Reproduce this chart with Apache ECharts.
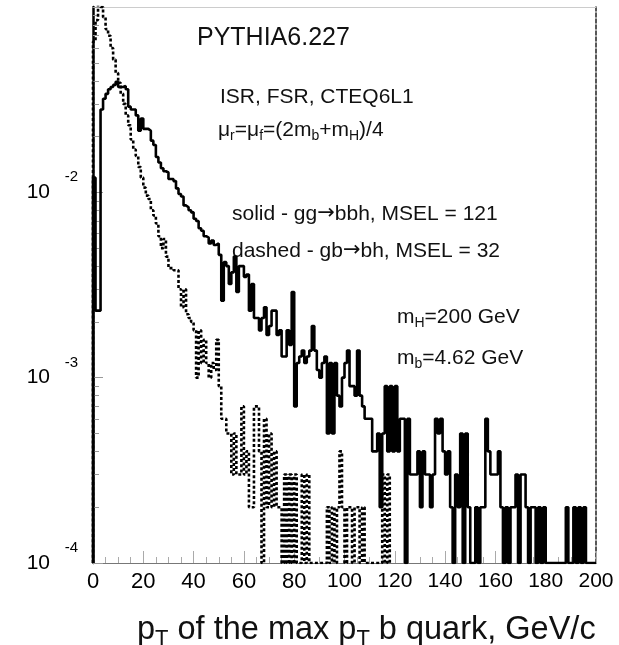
<!DOCTYPE html>
<html>
<head>
<meta charset="utf-8">
<script src="https://cdn.jsdelivr.net/npm/echarts@6/dist/echarts.min.js"></script>
<style>
  html, body { margin: 0; padding: 0; background: #fff; }
  #chart { width: 619px; height: 645px; }
</style>
</head>
<body>
<div id="chart"></div>
<script>
// ---- data: histograms with 1 GeV bins, bin i covers [i, i+1) GeV ----
const binLow = 0;          // first bin low edge (GeV)
const binWidth = 1;        // GeV
// solid - gg -> bbh, MSEL = 121 (200 bins, 0..200 GeV)
const ggBbh = [
  0.012, 0.0023, 0.0023, 0.028, 0.032, 0.034, 0.036, 0.037, 0.038, 0.0395,
  0.037, 0.037, 0.0375, 0.036, 0.029, 0.028, 0.028, 0.026, 0.0215, 0.025,
  0.022, 0.022, 0.0215, 0.019, 0.018, 0.0155, 0.0145, 0.0135, 0.013, 0.0128,
  0.0118, 0.0118, 0.0115, 0.0105, 0.0098, 0.0095, 0.0085, 0.0083, 0.0080, 0.0078,
  0.0072, 0.0070, 0.0064, 0.0062, 0.0058, 0.0057, 0.0053, 0.0055, 0.0052, 0.0053,
  0.0046, 0.0026, 0.0042, 0.0040, 0.0032, 0.0037, 0.0045, 0.0029, 0.0040, 0.0040,
  0.0035, 0.0036, 0.0023, 0.0032, 0.0021, 0.0021, 0.0018, 0.0021, 0.0024, 0.0017,
  0.0019, 0.0023, 0.0023, 0.0017, 0.0018, 0.0013, 0.0013, 0.0018, 0.0015, 0.0029,
  0.0007, 0.0012, 0.0013, 0.0014, 0.0012, 0.0013, 0.0014, 0.0019, 0.0014, 0.0011,
  0.0010, 0.0012, 0.0013, 0.0005, 0.0012, 0.0005, 0.0012, 0.0008, 0.0007, 0.0010,
  0.0012, 0.0014, 0.0009, 0.0009, 0.0008, 0.0014, 0.0008, 0.0007, 0.0006, 0.0006,
  0.0006, 0.0004, 0.0004, 0.0005, 0.0002, 0.0005, 0.0009, 0.0004, 0.0009, 0.0004,
  0.0009, 0.0004, 0.0006, 0.0006, 0.0001, 0.0006, 0.0003, 0.0003, 0.0003, 0.0004,
  0.0002, 0.0004, 0.0003, 0.0003, 0.0002, 0.0003, 0.0006, 0.0005, 0.0006, 0.0004,
  0.0003, 0.0004, 0.0002, 0.0001, 0.0003, 0.0002, 0.0005, 0.0001, 0.0005, 0.0002,
  0.0001, 0.0001, 0.0002, 0.0001, 0.0002, 0.0002, 0.0006, 0.0004, 0.0003, 0.0003,
  0.0003, 0.0004, 0.0002, 0.0001, 0.0002, 0.0001, 0.0002, 0.0002, 0.0003, 0.0001,
  0.0003, 0.0003, 0.0002, 0.0001, 0.0002, 0.0002, 0.0001, 0.0002, 0.0001, 0.0002,
  0.0001, 0.0001, 0.0001, 0.0001, 0.0001, 0.0001, 0.0001, 0.0001, 0.0002, 0.0001,
  0.0001, 0.0002, 0.0001, 0.0002, 0.0001, 0.0002, 0.0001, 0.0001, 0.0001, 0.0001
];
// dashed - gb -> bh, MSEL = 32 (bins 0..117 GeV; empty above)
const gbBh = [
  0.065, 0.085, 0.12, 0.1, 0.088, 0.076, 0.07, 0.06, 0.052, 0.044,
  0.039, 0.034, 0.030, 0.026, 0.023, 0.0193, 0.017, 0.0157, 0.0137, 0.012,
  0.0106, 0.0096, 0.0092, 0.0080, 0.0075, 0.0068, 0.0058, 0.0050, 0.0056, 0.0045,
  0.0039, 0.0039, 0.0038, 0.0038, 0.0030, 0.0024, 0.0030, 0.0022, 0.0021, 0.0020,
  0.0018, 0.0010, 0.0018, 0.0012, 0.0016, 0.0012, 0.0010, 0.0012, 0.0011, 0.0016,
  0.0009, 0.0006, 0.0006, 0.0005, 0.0005, 0.0003, 0.0005, 0.0003, 0.0003, 0.0007,
  0.0003, 0.0004, 0.0002, 0.0002, 0.0007, 0.0007, 0.0004, 0.0001, 0.0006, 0.0002,
  0.0005, 0.0002, 0.0004, 0.0002, 0.0002, 0.0001, 0.0003, 0.0001, 0.0003, 0.0001,
  0.0003, 0.0001, 0.0001, 0.0003, 0.0001, 0.0003, 0.0001, 0.0001, 0.0001, 0.0001,
  0.0001, 0.0001, 0.0001, 0.0002, 0.0001, 0.0002, 0.0001, 0.0002, 0.0004, 0.0002,
  0.0001, 0.0002, 0.0002, 0.0001, 0.0002, 0.0002, 0.0001, 0.0002, 0.0001, 0.0001,
  0.0001, 0.0001, 0.0001, 0.0001, 0.0001, 0.0003, 0.0001, 0.0003
];
// axes
const xMin = 0, xMax = 200, xStep = 20;
const yMin = 1e-4, yMax = 1e-1;
const yMinorTicks = [2e-4,3e-4,4e-4,5e-4,6e-4,7e-4,8e-4,9e-4,
                     2e-3,3e-3,4e-3,5e-3,6e-3,7e-3,8e-3,9e-3,
                     2e-2,3e-2,4e-2,5e-2,6e-2,7e-2,8e-2,9e-2];
const yLabelValues = [1e-4, 1e-3, 1e-2];

// build step-histogram outlines from bin contents
function histOutline(vals) {
  const pts = [[binLow, yMin]];
  vals.forEach((v, i) => pts.push([binLow + i * binWidth, v]));
  const end = binLow + vals.length * binWidth;
  pts.push([end, vals[vals.length - 1]]);
  pts.push([end, yMin]);
  return pts;
}

const FONT = "'Liberation Sans', Arial, Helvetica, sans-serif";
const chart = echarts.init(document.getElementById('chart'), null, {renderer: 'canvas'});

const logAxisBase = {type: 'log', logBase: 10, min: yMin, max: yMax, splitLine: {show: false}};

const option = {
  animation: false,
  backgroundColor: '#ffffff',
  grid: {left: 93, right: 23, top: 7, bottom: 82, containLabel: false},
  xAxis: [{
    type: 'value', min: xMin, max: xMax, interval: xStep, position: 'bottom',
    axisLine: {show: true, onZero: false, lineStyle: {color: '#777', width: 1}},
    axisTick: {show: true, inside: true, length: 12, lineStyle: {color: '#aaa', width: 1}},
    minorTick: {show: true, splitNumber: 4, length: 6, lineStyle: {color: '#aaa', width: 1}},
    splitLine: {show: false},
    axisLabel: {
      margin: 8, color: '#000',
      formatter: v => (v >= 100 ? '{n|' + v + '}' : '{w|' + v + '}'),
      rich: {
        w: {fontFamily: FONT, fontSize: 22, color: '#000'},
        n: {fontFamily: "'Liberation Sans Narrow', 'Arial Narrow', " + FONT, fontSize: 21, color: '#000'}
      }
    }
  }, {
    type: 'value', min: xMin, max: xMax, position: 'top',
    axisLine: {show: true, onZero: false, lineStyle: {color: '#ccc', width: 1}},
    axisTick: {show: false}, axisLabel: {show: false}, splitLine: {show: false}
  }],
  yAxis: [Object.assign({}, logAxisBase, {
    position: 'left',
    axisLine: {show: true, onZero: false, lineStyle: {color: '#000', width: 2.5}},
    axisTick: {show: true, inside: true, length: 10, lineStyle: {color: '#999', width: 1}},
    axisLabel: {
      margin: 43, color: '#000', fontFamily: FONT, fontSize: 21,
      formatter: v => (v > 0.05 ? '' : '10')
    }
  }), Object.assign({}, logAxisBase, {
    position: 'left',
    axisLine: {show: false},
    axisTick: {show: true, inside: true, length: 6, customValues: yMinorTicks, lineStyle: {color: '#999', width: 1}},
    axisLabel: {
      show: true, margin: 15, color: '#000', fontFamily: FONT, fontSize: 15,
      customValues: yLabelValues, verticalAlign: 'bottom', lineHeight: 30,
      formatter: v => String(Math.round(Math.log10(v)))
    }
  }), Object.assign({}, logAxisBase, {
    position: 'right',
    axisLine: {show: true, onZero: false, lineStyle: {color: '#222', width: 1.5, type: [4, 2]}},
    axisTick: {show: false}, axisLabel: {show: false}
  })],
  series: [{
    name: 'solid - gg->bbh', type: 'line', xAxisIndex: 0, yAxisIndex: 0,
    step: 'end', showSymbol: false, symbol: 'none', clip: true,
    lineStyle: {color: '#000', width: 2.6},
    data: histOutline(ggBbh), z: 3
  }, {
    name: 'dashed - gb->bh', type: 'line', xAxisIndex: 0, yAxisIndex: 0,
    step: 'end', showSymbol: false, symbol: 'none', clip: true,
    lineStyle: {color: '#000', width: 2.6, type: [3, 2.2]},
    data: histOutline(gbBh), z: 2
  }],
  graphic: (function () {
    const t = (x, y, text, size, rich) => ({
      type: 'text', x: x, y: y, silent: true,
      style: {
        text: text, fill: '#111', font: size + 'px ' + FONT,
        textVerticalAlign: 'middle', verticalAlign: 'middle', align: 'left', textAlign: 'left',
        rich: rich
      }
    });
    const sub = (base) => ({
      n: {fontSize: base, fontFamily: FONT, fill: '#111', color: '#111'},
      a: {fontSize: base, fontFamily: "'DejaVu Sans', sans-serif", fill: '#111', color: '#111'},
      s: {fontSize: Math.round(base * 0.68), fontFamily: FONT, fill: '#111', color: '#111', padding: [Math.round(base * 0.55), 0, 0, 0]}
    });
    return [
      t(197, 38, 'PYTHIA6.227', 25),
      t(220, 97, 'ISR, FSR, CTEQ6L1', 21),
      t(218, 130, '{n|\u03bc}{s|r}{n|=\u03bc}{s|f}{n|=(2m}{s|b}{n|+m}{s|H}{n|)/4}', 21, sub(21)),
      t(232, 214, '{n|solid - gg}{a|\u2192}{n|bbh, MSEL = 121}', 21, sub(21)),
      t(232, 251, '{n|dashed - gb}{a|\u2192}{n|bh, MSEL = 32}', 21, sub(21)),
      t(397, 317, '{n|m}{s|H}{n|=200 GeV}', 21, sub(21)),
      t(397, 358, '{n|m}{s|b}{n|=4.62 GeV}', 21, sub(21)),
      t(137, 630, '{n|p}{s|T}{n| of the max p}{s|T}{n| b quark, GeV/c}', 32.5, sub(32.5))
    ];
  })()
};
chart.setOption(option);
</script>
</body>
</html>
